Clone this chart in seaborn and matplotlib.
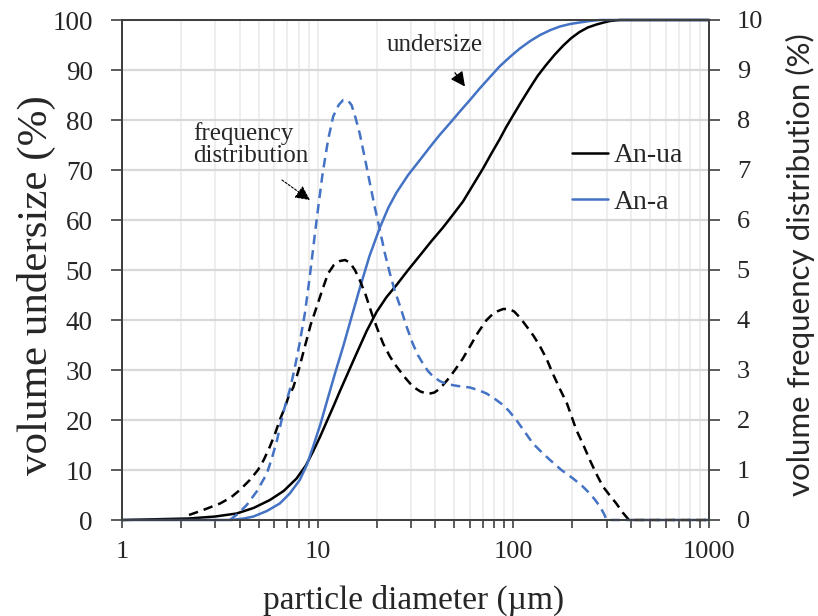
import matplotlib
matplotlib.use("Agg")
import matplotlib.pyplot as plt
from matplotlib.lines import Line2D
import seaborn as sns
import pandas as pd

# cumulative undersize (%), left axis
ua_cum_x = [1, 2.2, 3.0, 3.85, 4.7, 5.7, 6.7, 7.8, 8.7, 9.5, 10.3, 11.1, 12.0, 13.0, 14.2,
            15.8, 17.8, 20, 22.5, 25.3, 29, 33.3, 38, 43.7, 49, 55.3, 62, 70, 77, 85, 92,
            100, 110, 121, 133, 147, 163, 180, 198, 218, 240, 266, 290, 312, 350, 1000]
ua_cum_y = [0, 0.3, 0.7, 1.3, 2.4, 4.0, 5.8, 8.3, 10.9, 13.8, 16.7, 19.6, 22.6, 25.8, 29.2,
            33.3, 37.8, 41.6, 44.6, 47.0, 50.0, 52.9, 55.7, 58.5, 61.0, 63.7, 66.9, 70.3,
            73.2, 76.1, 78.6, 81.0, 83.7, 86.3, 88.8, 91.0, 93.1, 94.9, 96.4, 97.6, 98.5,
            99.1, 99.5, 99.8, 100, 100]
a_cum_x = [1, 3.6, 4.2, 4.7, 5.5, 6.4, 7.2, 8.1, 8.8, 9.5, 10.3, 11.3, 12.3, 13.5, 14.9,
           16.4, 18.4, 20.8, 23, 25.3, 29, 33.3, 37.5, 42, 47.5, 53.3, 60, 67.3, 76, 85,
           96, 108, 122, 137, 155, 173, 195, 218, 245, 277, 1000]
a_cum_y = [0, 0, 0.3, 0.7, 1.8, 3.3, 5.3, 8.0, 11.0, 14.8, 19.0, 24.5, 29.5, 34.7, 40.6,
           46.3, 52.8, 58.5, 62.5, 65.5, 69.0, 72.0, 74.6, 77.0, 79.4, 81.7, 84.0, 86.3,
           88.6, 90.7, 92.6, 94.3, 95.8, 97.0, 98.0, 98.7, 99.2, 99.5, 99.8, 100, 100]

# frequency distribution (%), right axis
ua_freq_x = [2.2, 2.6, 3.17, 3.6, 4.0, 4.5, 4.95, 5.3, 5.7, 6.05, 6.4, 6.8, 7.1, 7.5, 8.0,
             8.6, 9.2, 9.9, 10.6, 11.3, 12.1, 13, 13.8, 14.6, 15.5, 16.4, 17.6, 18.9,
             20.2, 21.6, 23.4, 25.3, 27.8, 30.6, 33.5, 36.6, 39.5, 42.2, 46, 50.3, 55,
             60, 66, 73, 80, 88.6, 95, 101, 108, 117, 127, 137, 148, 159, 173, 188, 210,
             228, 246, 265, 287, 310, 336, 362, 390, 1000]
ua_freq_y = [0.1, 0.2, 0.33, 0.45, 0.6, 0.8, 1.0, 1.2, 1.47, 1.72, 2.0, 2.25, 2.47, 2.65,
             3.0, 3.47, 3.9, 4.27, 4.62, 4.93, 5.1, 5.18, 5.2, 5.15, 5.0, 4.8, 4.5, 4.13,
             3.82, 3.53, 3.27, 3.07, 2.86, 2.67, 2.57, 2.52, 2.55, 2.63, 2.8, 3.0, 3.22,
             3.47, 3.75, 4.0, 4.15, 4.22, 4.22, 4.17, 4.05, 3.87, 3.68, 3.47, 3.22, 2.93,
             2.62, 2.33, 1.8, 1.5, 1.2, 0.93, 0.67, 0.5, 0.33, 0.15, 0.0, 0.0]
a_freq_x = [3.56, 3.9, 4.34, 4.9, 5.5, 5.85, 6.2, 6.5, 6.8, 7.2, 7.6, 8.1, 8.6, 9.1, 9.7,
            10.1, 10.6, 11.3, 12, 12.8, 13.5, 14.2, 14.9, 15.6, 16.4, 17.4, 18.5, 19.6,
            20.8, 22, 23.4, 24.8, 26.4, 28.4, 30.6, 32.5, 34.5, 36.6, 38.9, 42, 45.5, 52,
            60, 66, 73, 80, 88.6, 95, 103.6, 114, 126, 140, 154, 176, 202, 225, 246, 262,
            277, 290, 300, 1000]
a_freq_y = [0, 0.12, 0.3, 0.58, 0.93, 1.25, 1.6, 1.95, 2.27, 2.6, 3.0, 3.55, 4.13, 4.85,
            5.75, 6.3, 6.93, 7.6, 8.07, 8.3, 8.4, 8.4, 8.3, 8.05, 7.73, 7.25, 6.73, 6.25,
            5.8, 5.35, 4.93, 4.58, 4.27, 3.88, 3.53, 3.3, 3.13, 2.98, 2.87, 2.78, 2.72,
            2.68, 2.65, 2.6, 2.53, 2.43, 2.3, 2.18, 2.0, 1.77, 1.53, 1.35, 1.2, 1.0, 0.83,
            0.68, 0.53, 0.4, 0.27, 0.13, 0, 0]

samples = ["An-ua", "An-a"]
colors = {"An-ua": "black", "An-a": "#4472C4"}
x_ticks = [1, 10, 100, 1000]

cum = pd.concat([
    pd.DataFrame({"d": ua_cum_x, "v": ua_cum_y, "sample": "An-ua"}),
    pd.DataFrame({"d": a_cum_x, "v": a_cum_y, "sample": "An-a"}),
])
freq = pd.concat([
    pd.DataFrame({"d": ua_freq_x, "v": ua_freq_y, "sample": "An-ua"}),
    pd.DataFrame({"d": a_freq_x, "v": a_freq_y, "sample": "An-a"}),
])

sns.set_theme(style="ticks")
plt.rcParams["font.family"] = ["Liberation Serif", "DejaVu Serif"]

fig = plt.figure(figsize=(8.18, 6.16), dpi=100)
ax = fig.add_axes([122 / 818, 96 / 616, 587 / 818, 500 / 616])
ax2 = ax.twinx()

sns.lineplot(data=cum, x="d", y="v", hue="sample", hue_order=samples, palette=colors,
             estimator=None, sort=False, lw=1.8, legend=False, clip_on=False, ax=ax)
sns.lineplot(data=freq, x="d", y="v", hue="sample", hue_order=samples, palette=colors,
             estimator=None, sort=False, lw=1.8, linestyle=(0, (3.8, 2.4)),
             legend=False, clip_on=False, ax=ax2)

ax.set_xscale("log")
ax.set_xlim(1, 1000)
ax.set_ylim(0, 100)
ax2.set_ylim(0, 10)
ax.set_xticks(x_ticks)
ax.set_xticklabels([str(t) for t in x_ticks])
ax.set_yticks(range(0, 101, 10))
ax2.set_yticks(range(0, 11))

ax.set_axisbelow(True)
ax.grid(which="both", axis="x", color="#ebebeb", lw=1.2)
ax.grid(which="major", axis="y", color="#d9d9d9", lw=1.6)
ax2.grid(False)

for a in (ax, ax2):
    for s in a.spines.values():
        s.set_color("#404040")
        s.set_linewidth(1.4)

ax.tick_params(axis="x", which="both", direction="out", length=6, width=1.2,
               color="#404040", pad=9, labelsize=19)
ax.tick_params(axis="y", direction="out", length=8, width=1.2, color="#404040",
               pad=13, labelsize=19.5)
ax2.tick_params(axis="y", direction="out", length=8, width=1.2, color="#404040",
                pad=12, labelsize=19)

ax.set_xlabel("particle diameter (µm)", fontsize=24)
ax.xaxis.set_label_coords(0.496, -0.16)
ax.xaxis.label.set_va("center")
ax.set_ylabel("volume undersize (%)", fontsize=31)
ax.yaxis.set_label_coords(-0.145, 0.47)
ax.yaxis.label.set_va("center")
ax2.set_ylabel("volume frequency distribution (%)", fontsize=22.5, family="Lato")
ax2.yaxis.set_label_coords(1.155, 0.51)
ax2.yaxis.label.set_va("center")

handles = [Line2D([], [], color=colors[s], lw=1.8) for s in samples]
ax2.legend(handles, samples, loc="upper left", bbox_to_anchor=(572 / 818, 1 - 143 / 616),
           bbox_transform=fig.transFigure, frameon=False, fontsize=20, borderpad=0,
           borderaxespad=0, handlelength=1.3, handletextpad=0.2, labelspacing=0.75)

ax.annotate("undersize", xy=(56.6, 86.7), xytext=(39.7, 95), fontsize=18,
            ha="center", va="center",
            arrowprops=dict(arrowstyle="-|>", color="black", lw=0.9,
                            mutation_scale=22, shrinkA=12, shrinkB=0))
ax.annotate("frequency\ndistribution", xy=(9.13, 64), xytext=(2.31, 75), fontsize=18,
            ha="left", va="center", linespacing=1.0, annotation_clip=False)
ax.annotate("", xy=(9.13, 64), xytext=(6.57, 68),
            arrowprops=dict(arrowstyle="-|>", color="black", lw=0.8, ls=(0, (2, 1.5)),
                            mutation_scale=22, shrinkA=0, shrinkB=0))

fig.savefig("out.png", dpi=100)
